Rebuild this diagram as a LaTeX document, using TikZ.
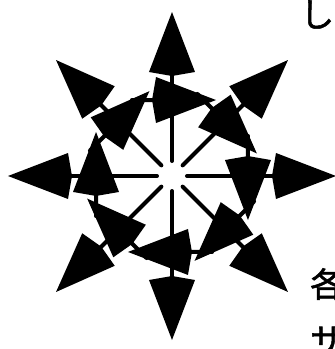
\documentclass[tikz,border=0pt]{standalone}
\usepackage{fontspec}
\newfontfamily\jpfont[FakeBold=1.5]{Noto Sans CJK JP}
\usepackage{tikz}
\usetikzlibrary{arrows.meta, calc}
\newcommand{\bigjp}{\jpfont\fontsize{34pt}{40pt}\selectfont}

\begin{document}
\begin{tikzpicture}[
    x=1pt, y=1pt,
    arr/.style={-{Kite[length=64pt, width=46pt, inset=4pt]}, line width=4pt, line cap=round},
    glyph/.style={inner sep=0pt, anchor=base west, font=\bigjp}
]
\useasboundingbox (-172,-173) rectangle (163,176);
\clip (-172,-173) rectangle (163,176);

% spokes
\path (0:15) coordinate (in-e) (0:164) coordinate (out-e);
\path (45:15) coordinate (in-ne) (45:164) coordinate (out-ne);
\path (90:15) coordinate (in-n) (90:164) coordinate (out-n);
\path (135:15) coordinate (in-nw) (135:164) coordinate (out-nw);
\path (180:15) coordinate (in-w) (180:164) coordinate (out-w);
\path (225:15) coordinate (in-sw) (225:164) coordinate (out-sw);
\path (270:15) coordinate (in-s) (270:164) coordinate (out-s);
\path (315:15) coordinate (in-se) (315:164) coordinate (out-se);

\draw[arr] (in-e) -- (out-e);
\draw[arr] (in-ne) -- (out-ne);
\draw[arr] (in-n) -- (out-n);
\draw[arr] (in-nw) -- (out-nw);
\draw[arr] (in-w) -- (out-w);
\draw[arr] (in-sw) -- (out-sw);
\draw[arr] (in-s) -- (out-s);
\draw[arr] (in-se) -- (out-se);

% ring, clockwise
\path (117.8:85.9) coordinate (ring-n) (59.9:87.8) coordinate (ring-n-tip);
\path (72.8:85.9) coordinate (ring-ne) (14.9:87.8) coordinate (ring-ne-tip);
\path (27.8:85.9) coordinate (ring-e) (-30.1:87.8) coordinate (ring-e-tip);
\path (-17.2:85.9) coordinate (ring-se) (-75.1:87.8) coordinate (ring-se-tip);
\path (-62.2:85.9) coordinate (ring-s) (-120.1:87.8) coordinate (ring-s-tip);
\path (-107.2:85.9) coordinate (ring-sw) (-165.1:87.8) coordinate (ring-sw-tip);
\path (207.8:85.9) coordinate (ring-w) (149.9:87.8) coordinate (ring-w-tip);
\path (162.8:85.9) coordinate (ring-nw) (104.9:87.8) coordinate (ring-nw-tip);

\draw[arr] (ring-n) -- (ring-n-tip);
\draw[arr] (ring-ne) -- (ring-ne-tip);
\draw[arr] (ring-e) -- (ring-e-tip);
\draw[arr] (ring-se) -- (ring-se-tip);
\draw[arr] (ring-s) -- (ring-s-tip);
\draw[arr] (ring-sw) -- (ring-sw-tip);
\draw[arr] (ring-w) -- (ring-w-tip);
\draw[arr] (ring-nw) -- (ring-nw-tip);

% text at the right edge
\node[glyph] (txt-top) at (128,149) {し};
\node[glyph] (txt-mid) at (138,-121) {各};
\node[glyph] (txt-low) at (138,-177) {サ};

\end{tikzpicture}
\end{document}
